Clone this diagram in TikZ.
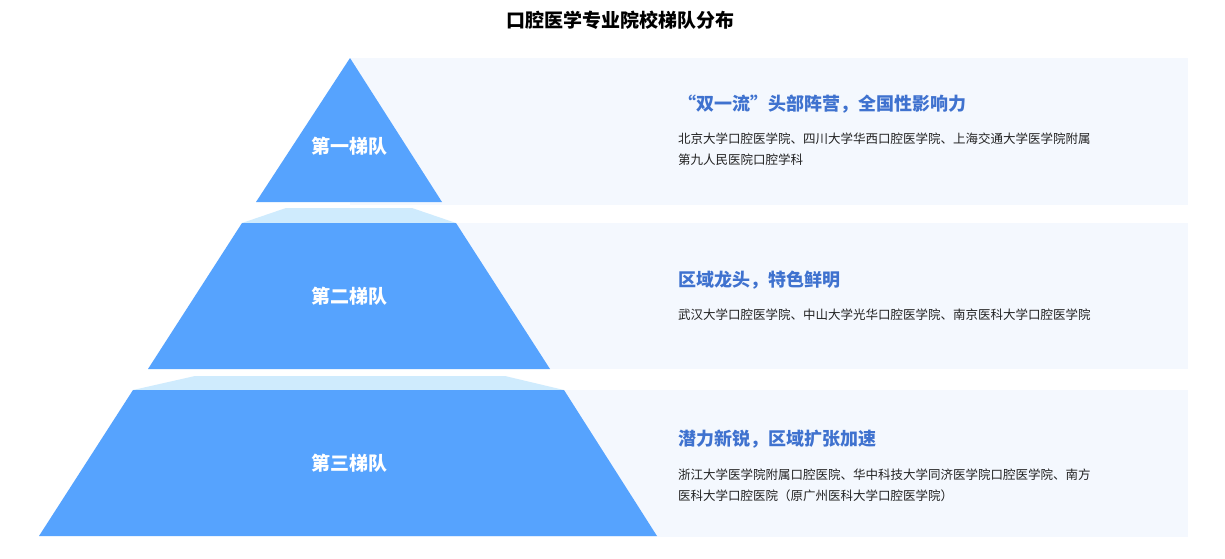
\documentclass[tikz,border=0pt]{standalone}
\usepackage{fontspec}
\setmainfont{Noto Sans CJK SC}
\definecolor{pyr}{HTML}{56A3FE}
\definecolor{band}{HTML}{CFEBFD}
\definecolor{panel}{HTML}{F4F8FE}
\definecolor{head}{HTML}{3F72CF}
\definecolor{body}{HTML}{222222}
\tikzset{
 hd/.style={anchor=west,text=head,font=\bfseries\fontsize{18}{20}\selectfont,inner sep=0},
 bd/.style={anchor=north west,text=body,font=\fontsize{12.5}{21}\selectfont,inner sep=0,align=left},
 lbl/.style={text=white,font=\bfseries\fontsize{19}{21}\selectfont},
}
\begin{document}
\begin{tikzpicture}[x=1pt,y=-1pt]
\useasboundingbox[fill=white] (0,0) rectangle (1225,558);
\node[font=\bfseries\fontsize{19}{21}\selectfont] (title) at (620,20) {口腔医学专业院校梯队分布};
\fill[panel] (350,58) rectangle (1188,205);
\fill[panel] (350,223) rectangle (1188,369);
\fill[panel] (350,390) rectangle (1188,537);
\fill[pyr] (350,58) -- (442,202) -- (256,202) -- cycle;
\fill[band] (286,208) -- (412,208) -- (456,223) -- (242,223) -- cycle;
\fill[pyr] (242,223) -- (456,223) -- (550,369) -- (148,369) -- cycle;
\fill[band] (195,376) -- (505,376) -- (564,390) -- (133,390) -- cycle;
\fill[pyr] (133,390) -- (564,390) -- (657,536) -- (39,536) -- cycle;
\node[lbl] (t1) at (349,146) {第一梯队};
\node[lbl] (t2) at (349,296) {第二梯队};
\node[lbl] (t3) at (349,463) {第三梯队};
\node[hd] (h1) at (678,104) {“双一流”头部阵营，全国性影响力};
\node[bd] (b1) at (678,133) {北京大学口腔医学院、四川大学华西口腔医学院、上海交通大学医学院附属\\第九人民医院口腔学科};
\node[hd] (h2) at (678,280) {区域龙头，特色鲜明};
\node[bd] (b2) at (678,309) {武汉大学口腔医学院、中山大学光华口腔医学院、南京医科大学口腔医学院};
\node[hd] (h3) at (678,439) {潜力新锐，区域扩张加速};
\node[bd] (b3) at (678,469) {浙江大学医学院附属口腔医院、华中科技大学同济医学院口腔医学院、南方\\医科大学口腔医院（原广州医科大学口腔医学院）};
\end{tikzpicture}
\end{document}
